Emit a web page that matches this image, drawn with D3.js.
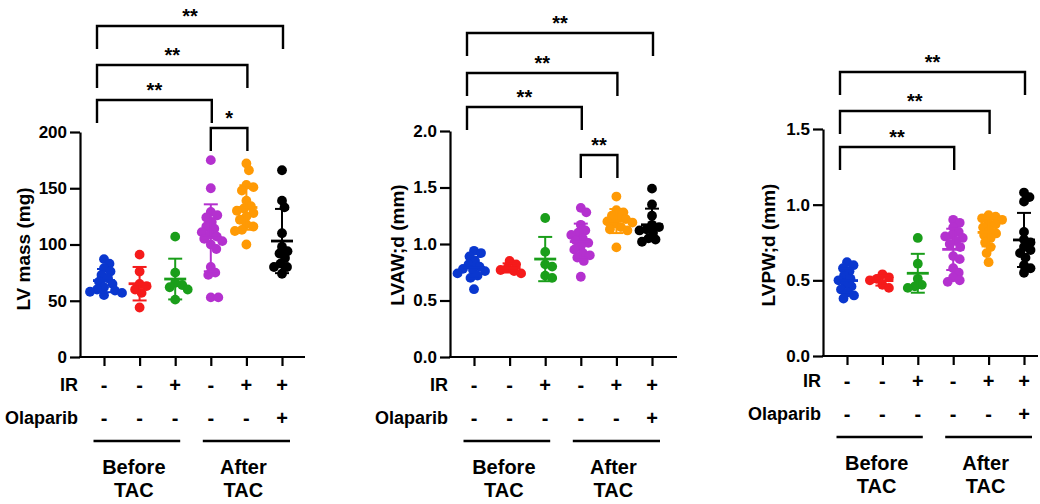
<!DOCTYPE html>
<html>
<head>
<meta charset="utf-8">
<script src="https://cdn.jsdelivr.net/npm/d3@7"></script>
<style>
  html, body { margin: 0; padding: 0; background: #fff; }
  svg { display: block; }
  text { font-family: "Liberation Sans", Arial, Helvetica, sans-serif; font-weight: bold; fill: #000; }
</style>
</head>
<body>
<svg id="chart" width="1040" height="504"></svg>
<script>
// groups: before TAC (ctrl, ctrl, IR), after TAC (ctrl, IR, IR + olaparib)
const GROUP_COLORS = ["#0a37cf", "#f51b1b", "#1a9e1a", "#b431cf", "#ff9a05", "#000000"];
const IR_SIGNS = ["-", "-", "+", "-", "+", "+"];
const OLAPARIB_SIGNS = ["-", "-", "-", "-", "-", "+"];
const PERIODS = [["Before", "TAC"], ["After", "TAC"]];

const lvMass = [
  [87, 83, 79, 76, 73, 70, 67, 65, 62, 60, 59, 58, 57, 55],
  [91, 76, 65, 63, 60, 57, 44],
  [107, 75, 66, 64, 62, 60, 51],
  [175, 150, 129, 126, 124, 120, 116, 114, 111, 109, 107, 105, 103, 100, 96, 80, 75, 73, 53, 53],
  [172, 166, 153, 151, 148, 139, 134, 132, 130, 128, 125, 122, 118, 116, 113, 112, 100],
  [166, 139, 133, 110, 98, 94, 92, 88, 83, 80, 80, 74]
];
const lvawd = [
  [0.94, 0.92, 0.89, 0.85, 0.82, 0.80, 0.78, 0.77, 0.76, 0.74, 0.72, 0.70, 0.60],
  [0.85, 0.82, 0.79, 0.77, 0.76, 0.74],
  [1.23, 0.93, 0.82, 0.80, 0.72, 0.70],
  [1.32, 1.28, 1.17, 1.12, 1.10, 1.08, 1.05, 1.03, 1.01, 0.98, 0.95, 0.92, 0.90, 0.88, 0.85, 0.71],
  [1.42, 1.30, 1.28, 1.25, 1.23, 1.22, 1.20, 1.19, 1.18, 1.15, 1.13, 1.12, 0.97],
  [1.49, 1.35, 1.25, 1.17, 1.15, 1.13, 1.12, 1.10, 1.05, 1.04, 1.02]
];
const lvpwd = [
  [0.62, 0.60, 0.58, 0.56, 0.53, 0.51, 0.50, 0.48, 0.46, 0.44, 0.42, 0.40, 0.38],
  [0.54, 0.52, 0.51, 0.50, 0.47, 0.45],
  [0.78, 0.61, 0.51, 0.47, 0.46, 0.45],
  [0.90, 0.88, 0.85, 0.82, 0.80, 0.79, 0.78, 0.76, 0.74, 0.72, 0.66, 0.64, 0.58, 0.55, 0.52, 0.50, 0.49],
  [0.93, 0.92, 0.91, 0.90, 0.88, 0.87, 0.85, 0.83, 0.81, 0.80, 0.78, 0.75, 0.72, 0.68, 0.62],
  [1.08, 1.05, 1.02, 0.82, 0.77, 0.75, 0.72, 0.70, 0.68, 0.65, 0.60, 0.58, 0.55]
];

// significance pairs: [from group, to group, label]
const lvMassSig = [[0, 5, "**"], [0, 4, "**"], [0, 3, "**"], [3, 4, "*"]];
const lvawdSig = [[0, 5, "**"], [0, 4, "**"], [0, 3, "**"], [3, 4, "**"]];
const lvpwdSig = [[0, 5, "**"], [0, 4, "**"], [0, 3, "**"]];

const panels = [
  { title: "LV mass (mg)", values: lvMass, sig: lvMassSig, domain: [0, 200], ticks: [0, 50, 100, 150, 200], fmt: d3.format("d"),
    axisX: 80, yTop: 132, yBottom: 357, gx0: 104, gx1: 282, axisEnd: 305, labelX: 23, labelY: 249,
    bracketY: [26, 65, 100, 128], annDy: 0 },
  { title: "LVAW;d (mm)", values: lvawd, sig: lvawdSig, domain: [0, 2], ticks: [0, 0.5, 1, 1.5, 2], fmt: d3.format(".1f"),
    axisX: 450, yTop: 131, yBottom: 357, gx0: 474, gx1: 652, axisEnd: 677, labelX: 397, labelY: 245,
    bracketY: [33, 73, 107, 155], annDy: 0 },
  { title: "LVPW;d (mm)", values: lvpwd, sig: lvpwdSig, domain: [0, 1.5], ticks: [0, 0.5, 1, 1.5], fmt: d3.format(".1f"),
    axisX: 823, yTop: 129, yBottom: 356, gx0: 847, gx1: 1024, axisEnd: 1038, labelX: 768, labelY: 245,
    bracketY: [72, 111, 147], annDy: -3 }
];

const R = 4.9;
const LEG = 23;
const svg = d3.select("#chart");

// simple beeswarm: nearest free horizontal slot for each dot (dots may overlap a bit)
function swarm(vals, y, cx) {
  const placed = [];
  const minD = 2 * R * 0.72;
  vals.slice().sort((a, b) => b - a).forEach(v => {
    const py = y(v);
    let off = 0;
    for (let k = 0; k < 200; k++) {
      const cand = (k % 2 ? 1 : -1) * Math.ceil(k / 2) * 0.5;
      const hit = placed.some(p => Math.hypot(p.x - (cx + cand), p.y - py) < minD);
      if (!hit) { off = cand; break; }
    }
    placed.push({ x: cx + off, y: py });
  });
  return placed;
}

panels.forEach(p => {
  const g = svg.append("g");
  const y = d3.scaleLinear().domain(p.domain).range([p.yBottom, p.yTop]);
  const x = d3.scalePoint().domain(d3.range(6)).range([p.gx0, p.gx1]);

  // y axis
  const ya = g.append("g")
    .attr("transform", `translate(${p.axisX},0)`)
    .call(d3.axisLeft(y).tickValues(p.ticks).tickFormat(p.fmt).tickSize(10).tickSizeOuter(0).tickPadding(3));
  ya.select(".domain").attr("stroke-width", 2.2);
  ya.selectAll(".tick line").attr("stroke-width", 2.2);
  ya.selectAll(".tick text").style("font-size", "17px").attr("fill", "#000");

  // x axis
  const xa = g.append("g")
    .attr("transform", `translate(0,${p.yBottom})`)
    .call(d3.axisBottom(x).tickSize(9).tickSizeOuter(0).tickFormat(""));
  xa.select(".domain").remove();
  xa.selectAll(".tick line").attr("stroke-width", 2.2);
  g.append("line")
    .attr("x1", p.axisX - 1).attr("x2", p.axisEnd)
    .attr("y1", p.yBottom).attr("y2", p.yBottom)
    .attr("stroke", "#000").attr("stroke-width", 2.2);

  // y label
  g.append("text")
    .attr("transform", `translate(${p.labelX},${p.labelY}) rotate(-90)`)
    .attr("text-anchor", "middle").attr("dominant-baseline", "central")
    .style("font-size", "19px")
    .text(p.title);

  // dots
  p.values.forEach((vals, i) => {
    const pts = swarm(vals, y, x(i));
    g.append("g").selectAll("circle").data(pts).join("circle")
      .attr("cx", d => d.x).attr("cy", d => d.y).attr("r", R)
      .attr("fill", GROUP_COLORS[i]);
  });

  // mean +/- SD
  p.values.forEach((vals, i) => {
    const m = d3.mean(vals), sd = d3.deviation(vals);
    const cx = x(i), c = GROUP_COLORS[i];
    const eg = g.append("g").attr("stroke", c);
    eg.append("line").attr("x1", cx).attr("x2", cx).attr("y1", y(m + sd)).attr("y2", y(m - sd)).attr("stroke-width", 2);
    [m + sd, m - sd].forEach(v => {
      eg.append("line").attr("x1", cx - 7).attr("x2", cx + 7).attr("y1", y(v)).attr("y2", y(v)).attr("stroke-width", 2);
    });
    eg.append("line").attr("x1", cx - 11).attr("x2", cx + 11).attr("y1", y(m)).attr("y2", y(m)).attr("stroke-width", 2.8);
  });

  // significance brackets
  p.sig.forEach(([a, b, lab], k) => {
    const by = p.bracketY[k];
    const xa0 = x(a) + (a === 0 ? -7 : 0), xb0 = x(b) + 1;
    g.append("path")
      .attr("d", `M${xa0},${by + LEG}V${by}H${xb0}V${by + LEG}`)
      .attr("fill", "none").attr("stroke", "#000").attr("stroke-width", 2.4);
    g.append("text")
      .attr("x", (xa0 + xb0) / 2).attr("y", by - 3)
      .attr("text-anchor", "middle")
      .style("font-size", "20px")
      .text(lab);
  });

  // treatment rows
  const base = p.yBottom + p.annDy;
  const rowIR = base + 28, rowOla = base + 61;
  g.append("text").attr("x", p.axisX - 2).attr("y", rowIR)
    .attr("text-anchor", "end").attr("dominant-baseline", "central")
    .style("font-size", "18px").text("IR");
  g.append("text").attr("x", p.axisX - 2).attr("y", rowOla)
    .attr("text-anchor", "end").attr("dominant-baseline", "central")
    .style("font-size", "18px").text("Olaparib");
  [[IR_SIGNS, rowIR], [OLAPARIB_SIGNS, rowOla]].forEach(([signs, ry]) => {
    g.append("g").selectAll("text").data(signs).join("text")
      .attr("x", (d, i) => x(i)).attr("y", ry)
      .attr("text-anchor", "middle").attr("dominant-baseline", "central")
      .style("font-size", "20px")
      .text(d => d);
  });

  // before / after TAC
  PERIODS.forEach((lines, k) => {
    const lx0 = x(k * 3) + (k === 0 ? -10.5 : -8);
    const lx1 = x(k * 3 + 2) + (k === 0 ? 5 : 8);
    const ly = base + 84;
    g.append("line").attr("x1", lx0).attr("x2", lx1).attr("y1", ly).attr("y2", ly)
      .attr("stroke", "#000").attr("stroke-width", 2.5);
    lines.forEach((t, j) => {
      g.append("text")
        .attr("x", (lx0 + lx1) / 2 - 3).attr("y", base + 110 + j * 23)
        .attr("text-anchor", "middle").attr("dominant-baseline", "central")
        .style("font-size", "20px")
        .text(t);
    });
  });
});
</script>
</body>
</html>
